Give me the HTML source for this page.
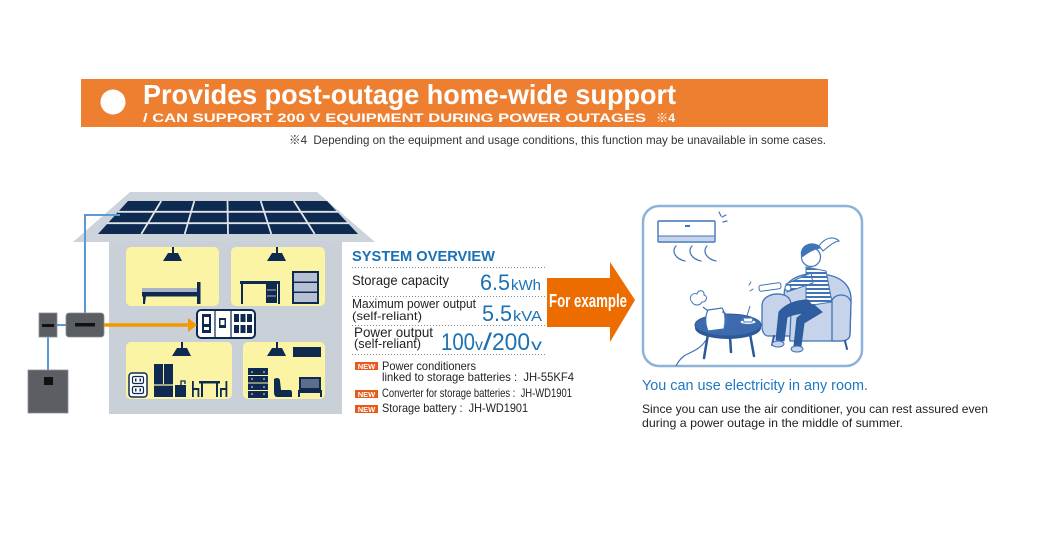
<!DOCTYPE html>
<html><head><meta charset="utf-8">
<style>
html,body{margin:0;padding:0;background:#fff;}
svg{display:block;}
text{font-family:"Liberation Sans","Noto Sans CJK JP",sans-serif;}
</style></head><body>
<svg width="1040" height="550" viewBox="0 0 1040 550" xmlns="http://www.w3.org/2000/svg">
<defs>
<pattern id="stripe" width="4" height="4" patternUnits="userSpaceOnUse"><rect width="4" height="4" fill="#fff"/><rect width="4" height="2" fill="#3f74b8"/></pattern>
</defs>
<rect width="1040" height="550" fill="#fff"/>

<!-- banner -->
<rect x="81" y="79" width="747" height="48" fill="#ee7f31"/>
<circle cx="113" cy="102" r="12.5" fill="#fff"/>
<text x="143" y="104" font-size="28" font-weight="bold" fill="#fff" textLength="533" lengthAdjust="spacingAndGlyphs">Provides post-outage home-wide support</text>
<text x="143" y="122" font-size="12" font-weight="bold" fill="#fff" textLength="503" lengthAdjust="spacingAndGlyphs">/ CAN SUPPORT 200 V EQUIPMENT DURING POWER OUTAGES</text>
<text x="656" y="122" font-size="12" font-weight="bold" fill="#fff" textLength="19" lengthAdjust="spacingAndGlyphs">※4</text>
<text x="289" y="144" font-size="12" fill="#333" textLength="537" lengthAdjust="spacingAndGlyphs" xml:space="preserve">※4  Depending on the equipment and usage conditions, this function may be unavailable in some cases.</text>

<!-- roof -->
<polygon points="130,192 317,192 375,242 73,242" fill="#ccd3da"/>
<polygon points="128,201 327,201 358,234 98,234" fill="#0e2a50"/>
<g stroke="#dfe4e9" stroke-width="1.8">
<line x1="118" y1="211.8" x2="338" y2="211.8"/>
<line x1="107" y1="223.2" x2="349" y2="223.2"/>
<line x1="161.2" y1="201" x2="141.3" y2="234"/>
<line x1="194.3" y1="201" x2="184.7" y2="234"/>
<line x1="227.5" y1="201" x2="228" y2="234"/>
<line x1="260.7" y1="201" x2="271.3" y2="234"/>
<line x1="293.8" y1="201" x2="314.7" y2="234"/>
</g>

<!-- body -->
<rect x="109" y="241" width="233" height="173" fill="#c9d0d8"/>

<!-- rooms -->
<g fill="#fcf4a5">
<rect x="126" y="247" width="93" height="59" rx="5"/>
<rect x="231" y="247" width="94" height="59" rx="5"/>
<rect x="126" y="342" width="106" height="57" rx="5"/>
<rect x="243" y="342" width="82" height="57" rx="5"/>
</g>

<!-- lamps -->
<g fill="#0e2a50">
<rect x="172" y="247" width="2" height="6"/><polygon points="168,253 178,253 182,261 163,261"/>
<rect x="276" y="247" width="2" height="6"/><polygon points="272,253 282,253 286,261 267,261"/>
<rect x="181" y="342" width="2" height="6"/><polygon points="177,348 187,348 191,356 172,356"/>
<rect x="276" y="342" width="2" height="6"/><polygon points="272,348 282,348 286,356 267,356"/>
</g>

<!-- bed -->
<rect x="142" y="288" width="56" height="4.5" fill="#a9b3c6"/>
<rect x="142" y="292" width="58" height="4.5" fill="#0e2a50"/>
<rect x="197" y="282" width="3.5" height="22" fill="#0e2a50"/>
<polygon points="143,296 146,296 145,304 143,304" fill="#0e2a50"/>

<!-- desk -->
<g fill="#0e2a50">
<rect x="240" y="281" width="40" height="3"/>
<rect x="241" y="284" width="2" height="20"/>
<rect x="278" y="284" width="2" height="20"/>
<rect x="266" y="284" width="11" height="19"/>
</g>
<g stroke="#a9b3c6" stroke-width="1"><line x1="267" y1="290" x2="276" y2="290"/><line x1="267" y1="296" x2="276" y2="296"/></g>
<!-- bookshelf -->
<rect x="292" y="271" width="27" height="33" fill="#0e2a50"/>
<rect x="294" y="273" width="23" height="8.5" fill="#b7c0d3"/>
<rect x="294" y="283" width="23" height="8.5" fill="#b7c0d3"/>
<rect x="294" y="293" width="23" height="9" fill="#b7c0d3"/>

<!-- distribution board -->
<rect x="197" y="310" width="58" height="28" rx="4" fill="#fff" stroke="#0e2a50" stroke-width="2"/>
<line x1="215" y1="311" x2="215" y2="337" stroke="#0e2a50" stroke-width="1.2"/>
<line x1="231" y1="311" x2="231" y2="337" stroke="#0e2a50" stroke-width="1.2"/>
<rect x="202" y="314" width="9" height="19" fill="#0e2a50"/>
<rect x="204" y="317" width="5" height="7" fill="#fff"/>
<rect x="204" y="327" width="5" height="3" fill="#fff"/>
<rect x="219" y="318" width="7" height="10" fill="#0e2a50"/>
<rect x="220.5" y="320" width="4" height="5" fill="#fff"/>
<g fill="#0e2a50">
<rect x="234" y="314" width="5" height="8"/><rect x="240.5" y="314" width="5" height="8"/><rect x="247" y="314" width="5" height="8"/>
<rect x="234" y="325" width="5" height="8"/><rect x="240.5" y="325" width="5" height="8"/><rect x="247" y="325" width="5" height="8"/>
</g>

<!-- R3 items -->
<rect x="129" y="373" width="18" height="24" rx="3" fill="#fff" stroke="#0e2a50" stroke-width="1.5"/>
<rect x="132.5" y="376.5" width="11" height="7" rx="1.5" fill="none" stroke="#0e2a50" stroke-width="1.2"/>
<rect x="132.5" y="386.5" width="11" height="7" rx="1.5" fill="none" stroke="#0e2a50" stroke-width="1.2"/>
<rect x="135" y="378.5" width="1.5" height="3" fill="#0e2a50"/><rect x="139.5" y="378.5" width="1.5" height="3" fill="#0e2a50"/>
<rect x="135" y="388.5" width="1.5" height="3" fill="#0e2a50"/><rect x="139.5" y="388.5" width="1.5" height="3" fill="#0e2a50"/>
<rect x="154" y="364" width="19" height="33" fill="#0e2a50"/>
<line x1="163.5" y1="364" x2="163.5" y2="384" stroke="#fcf4a5" stroke-width="1"/>
<line x1="154" y1="385" x2="173" y2="385" stroke="#fcf4a5" stroke-width="1.2"/>
<rect x="175" y="385" width="11" height="12" fill="#0e2a50"/>
<path d="M181,385 L181,381 L185,381 L185,384" fill="none" stroke="#0e2a50" stroke-width="1.3"/>
<g fill="#0e2a50">
<rect x="199" y="381" width="21" height="2.5"/>
<rect x="201" y="383" width="2" height="14"/><rect x="216" y="383" width="2" height="14"/>
<rect x="192" y="381" width="1.8" height="16"/><rect x="192" y="388" width="7" height="2"/><rect x="197.5" y="388" width="1.8" height="9"/>
<rect x="225.5" y="381" width="1.8" height="16"/><rect x="220" y="388" width="7" height="2"/><rect x="220" y="388" width="1.8" height="9"/>
</g>

<!-- R4 items -->
<rect x="293" y="347" width="28" height="10" fill="#0e2a50"/>
<rect x="248" y="368" width="20" height="30" fill="#0e2a50"/>
<g stroke="#fcf4a5" stroke-width="1"><line x1="248" y1="375.5" x2="268" y2="375.5"/><line x1="248" y1="383" x2="268" y2="383"/><line x1="248" y1="390.5" x2="268" y2="390.5"/></g>
<g fill="#fff"><circle cx="252" cy="372" r="0.8"/><circle cx="264" cy="372" r="0.8"/><circle cx="252" cy="379" r="0.8"/><circle cx="264" cy="379" r="0.8"/><circle cx="252" cy="387" r="0.8"/><circle cx="264" cy="387" r="0.8"/><circle cx="252" cy="394" r="0.8"/><circle cx="264" cy="394" r="0.8"/></g>
<path d="M274,379 C277,377 280,378 280,381 L281,390 L290,390 C292,390 292,392 292,394 L292,397 L277,397 C275,397 274,395 274,392 Z" fill="#0e2a50"/>
<rect x="299" y="377" width="22" height="13" fill="#0e2a50"/>
<rect x="301" y="379" width="18" height="9" fill="#5d6e8c"/>
<rect x="298" y="390" width="24" height="3" fill="#0e2a50"/>
<rect x="298" y="393" width="2" height="4" fill="#0e2a50"/><rect x="320" y="393" width="2" height="4" fill="#0e2a50"/>

<!-- blue lines -->
<g stroke="#5b9bd5" stroke-width="2" fill="none">
<polyline points="85,313 85,215 120,215"/>
<line x1="57" y1="325" x2="66" y2="325"/>
<line x1="48" y1="337" x2="48" y2="370"/>
</g>

<!-- devices -->
<rect x="39" y="313" width="18" height="24" fill="#5b5f64" stroke="#8a8f95" stroke-width="0.8"/>
<rect x="42" y="324" width="12" height="3" fill="#111"/>
<rect x="66" y="313" width="38" height="24" rx="3" fill="#5b5f64" stroke="#8a8f95" stroke-width="0.8"/>
<rect x="75" y="323" width="20" height="3.5" fill="#111"/>
<rect x="28" y="370" width="40" height="43" fill="#5b5f64" stroke="#8a8f95" stroke-width="0.8"/>
<rect x="44" y="377" width="9" height="8" fill="#111"/>

<!-- orange arrow -->
<line x1="104" y1="325" x2="190" y2="325" stroke="#f39800" stroke-width="3.5"/>
<polygon points="188,318 197,325 188,332" fill="#f39800"/>

<!-- system overview -->
<text x="352" y="261" font-size="15" font-weight="bold" fill="#1a71b5" textLength="143" lengthAdjust="spacingAndGlyphs">SYSTEM OVERVIEW</text>
<g stroke="#8a8a8a" stroke-width="1" stroke-dasharray="1 2">
<line x1="352" y1="267.5" x2="545" y2="267.5"/>
<line x1="352" y1="296.5" x2="545" y2="296.5"/>
<line x1="352" y1="325.5" x2="545" y2="325.5"/>
<line x1="352" y1="354.5" x2="545" y2="354.5"/>
</g>
<text x="352" y="285" font-size="14" fill="#222" textLength="97" lengthAdjust="spacingAndGlyphs">Storage capacity</text>
<text x="480" y="290" font-size="22" fill="#1a71b5" textLength="30" lengthAdjust="spacingAndGlyphs">6.5</text>
<text x="511" y="290" font-size="15" fill="#1a71b5" textLength="30" lengthAdjust="spacingAndGlyphs">kWh</text>
<text x="352" y="308" font-size="13" fill="#222" textLength="124" lengthAdjust="spacingAndGlyphs">Maximum power output</text>
<text x="352" y="320" font-size="12" fill="#222" textLength="70" lengthAdjust="spacingAndGlyphs">(self-reliant)</text>
<text x="482" y="321" font-size="22" fill="#1a71b5" textLength="30" lengthAdjust="spacingAndGlyphs">5.5</text>
<text x="513" y="321" font-size="15" fill="#1a71b5" textLength="29" lengthAdjust="spacingAndGlyphs">kVA</text>
<text x="354" y="337" font-size="14" fill="#222" textLength="79" lengthAdjust="spacingAndGlyphs">Power output</text>
<text x="354" y="348" font-size="13" fill="#222" textLength="67" lengthAdjust="spacingAndGlyphs">(self-reliant)</text>
<text x="441" y="350" font-size="24" fill="#1a71b5" textLength="34" lengthAdjust="spacingAndGlyphs">100</text>
<text x="475" y="350" font-size="16" fill="#1a71b5" textLength="8" lengthAdjust="spacingAndGlyphs">v</text>
<text x="483" y="350" font-size="24" fill="#1a71b5" textLength="9" lengthAdjust="spacingAndGlyphs">/</text>
<text x="492" y="350" font-size="24" fill="#1a71b5" textLength="38" lengthAdjust="spacingAndGlyphs">200</text>
<text x="531" y="350" font-size="16" fill="#1a71b5" textLength="11" lengthAdjust="spacingAndGlyphs">v</text>

<g>
<rect x="355" y="362" width="23" height="8" fill="#e85a1b"/>
<text x="366.5" y="369" font-size="7.5" font-weight="bold" fill="#fff" text-anchor="middle">NEW</text>
<rect x="355" y="390" width="23" height="8" fill="#e85a1b"/>
<text x="366.5" y="397" font-size="7.5" font-weight="bold" fill="#fff" text-anchor="middle">NEW</text>
<rect x="355" y="405" width="23" height="8" fill="#e85a1b"/>
<text x="366.5" y="412" font-size="7.5" font-weight="bold" fill="#fff" text-anchor="middle">NEW</text>
</g>
<text x="382" y="370" font-size="12" fill="#222" textLength="94" lengthAdjust="spacingAndGlyphs">Power conditioners</text>
<text x="382" y="381" font-size="12" fill="#222" textLength="192" lengthAdjust="spacingAndGlyphs" xml:space="preserve">linked to storage batteries :  JH-55KF4</text>
<text x="382" y="397" font-size="12" fill="#222" textLength="190" lengthAdjust="spacingAndGlyphs" xml:space="preserve">Converter for storage batteries :  JH-WD1901</text>
<text x="382" y="412" font-size="12" fill="#222" textLength="146" lengthAdjust="spacingAndGlyphs" xml:space="preserve">Storage battery :  JH-WD1901</text>

<!-- For example arrow -->
<polygon points="547,278 610,278 610,262 635,300 610,342 610,327 547,327" fill="#ec6c00"/>
<text x="549" y="307" font-size="18" font-weight="bold" fill="#fff" textLength="78" lengthAdjust="spacingAndGlyphs">For example</text>

<!-- illustration box -->
<rect x="643" y="206" width="219" height="160" rx="16" fill="#fff" stroke="#8db3d9" stroke-width="2.5"/>
<!-- AC -->
<rect x="658" y="221" width="57" height="21" rx="1" fill="#fff" stroke="#3f74b8" stroke-width="1.4"/>
<rect x="659" y="236" width="55" height="5" fill="#c6d3ea"/>
<line x1="658" y1="236" x2="715" y2="236" stroke="#3f74b8" stroke-width="1"/>
<rect x="685" y="225" width="5" height="2" fill="#3f74b8"/>
<g stroke="#3f74b8" stroke-width="1.2" fill="none" stroke-linecap="round">
<path d="M676,246 C671,252 676,259 685,261"/>
<path d="M692,246 C687,252 692,259 701,261"/>
<path d="M707,246 C702,252 707,259 716,261"/>
<path d="M719,212 L721,216"/><path d="M723,222 L727,221"/><path d="M722,217 L726,215"/>
</g>
<!-- cord -->
<path d="M706,340 C700,350 690,352 684,356 C680,359 678,362 676,366" fill="none" stroke="#3f74b8" stroke-width="1.2"/>
<!-- table -->
<g stroke="#2c5a99" stroke-width="2.5" stroke-linecap="round">
<line x1="708" y1="334" x2="704" y2="358"/>
<line x1="750" y1="334" x2="754" y2="356"/>
<line x1="730" y1="337" x2="731" y2="352"/>
</g>
<ellipse cx="728" cy="328" rx="33" ry="11" fill="#2c5a99"/>
<ellipse cx="728" cy="325" rx="33" ry="11" fill="#3c6aac" stroke="#2c5a99" stroke-width="1"/>
<!-- kettle -->
<path d="M708,310 L722,308 C725,312 726,320 724,329 L708,331 C705,324 705,316 708,310 Z" fill="#fff" stroke="#3f74b8" stroke-width="1.2"/>
<path d="M722,312 C728,312 729,322 724,326" fill="none" stroke="#3f74b8" stroke-width="1.2"/>
<path d="M708,311 L703,307" stroke="#3f74b8" stroke-width="1.2"/>
<path d="M692,302 C688,298 692,292 697,294 C698,289 705,290 704,295 C708,296 707,302 702,302 C700,306 694,306 692,302 Z" fill="#fff" stroke="#3f74b8" stroke-width="1"/>
<!-- cup -->
<ellipse cx="748" cy="322" rx="8" ry="2.5" fill="#fff" stroke="#3f74b8" stroke-width="1"/>
<path d="M743,318 L753,318 L752,322 L744,322 Z" fill="#fff" stroke="#3f74b8" stroke-width="1"/>
<line x1="747" y1="316" x2="750" y2="306" stroke="#3f74b8" stroke-width="1"/>
<!-- chair -->
<path d="M785,300 C780,280 800,272 822,274 C842,276 852,286 851,302 L850,334 C850,339 846,341 840,341 L790,341 Z" fill="#c6d3ea" stroke="#3f74b8" stroke-width="1.3"/>
<path d="M762,306 C762,296 774,292 784,295 C790,297 792,302 791,310 L790,336 L768,336 C764,336 762,331 762,326 Z" fill="#c6d3ea" stroke="#3f74b8" stroke-width="1.3"/>
<path d="M832,300 C836,293 848,293 851,302 L850,334 C850,339 846,341 840,341 L832,341 Z" fill="#c6d3ea" stroke="#3f74b8" stroke-width="1.3"/>
<g stroke="#2c5a99" stroke-width="2" stroke-linecap="round">
<line x1="774" y1="336" x2="772" y2="345"/><line x1="800" y1="341" x2="800" y2="350"/><line x1="845" y1="341" x2="847" y2="349"/>
</g>
<!-- woman -->
<path d="M806,267 L826,271 L832,302 L806,306 Z" fill="url(#stripe)" stroke="#3f74b8" stroke-width="1"/>
<path d="M811,273 L786,284 L787,292 L813,283 Z" fill="url(#stripe)" stroke="#3f74b8" stroke-width="1"/>
<path d="M808,300 C795,300 785,305 779,312 L776,340 L784,341 L787,317 C796,313 806,313 816,311 Z" fill="#2f5ea0" stroke="#2c5a99" stroke-width="1"/>
<path d="M814,305 L797,318 L794,346 L801,346 L804,323 L822,312 Z" fill="#2f5ea0" stroke="#2c5a99" stroke-width="1"/>
<ellipse cx="778" cy="344" rx="6" ry="3" fill="#c6d3ea" stroke="#3f74b8" stroke-width="1"/>
<ellipse cx="797" cy="349" rx="6" ry="3" fill="#c6d3ea" stroke="#3f74b8" stroke-width="1"/>
<rect x="759" y="284" width="22" height="6" rx="2" fill="#fff" stroke="#3f74b8" stroke-width="1" transform="rotate(-8 770 287)"/>
<circle cx="788" cy="288" r="3" fill="#fff" stroke="#3f74b8" stroke-width="1"/>
<g stroke="#3f74b8" stroke-width="1" stroke-linecap="round"><line x1="749" y1="285" x2="751" y2="282"/><line x1="750" y1="291" x2="753" y2="289"/></g>
<circle cx="811" cy="257" r="9.5" fill="#fff" stroke="#3f74b8" stroke-width="1.2"/>
<path d="M801,256 C799,244 814,239 822,248 C817,249 810,251 803,257 Z" fill="#3f74b8"/>
<path d="M819,246 C825,237 834,236 839,241 C833,242 828,247 823,251 Z" fill="#fff" stroke="#3f74b8" stroke-width="1.1"/>

<!-- right texts -->
<text x="642" y="390" font-size="14.5" fill="#1e78c2" textLength="226" lengthAdjust="spacingAndGlyphs">You can use electricity in any room.</text>
<text x="642" y="413" font-size="12" fill="#222" textLength="346" lengthAdjust="spacingAndGlyphs">Since you can use the air conditioner, you can rest assured even</text>
<text x="642" y="427" font-size="12" fill="#222" textLength="261" lengthAdjust="spacingAndGlyphs">during a power outage in the middle of summer.</text>
</svg>
</body></html>
